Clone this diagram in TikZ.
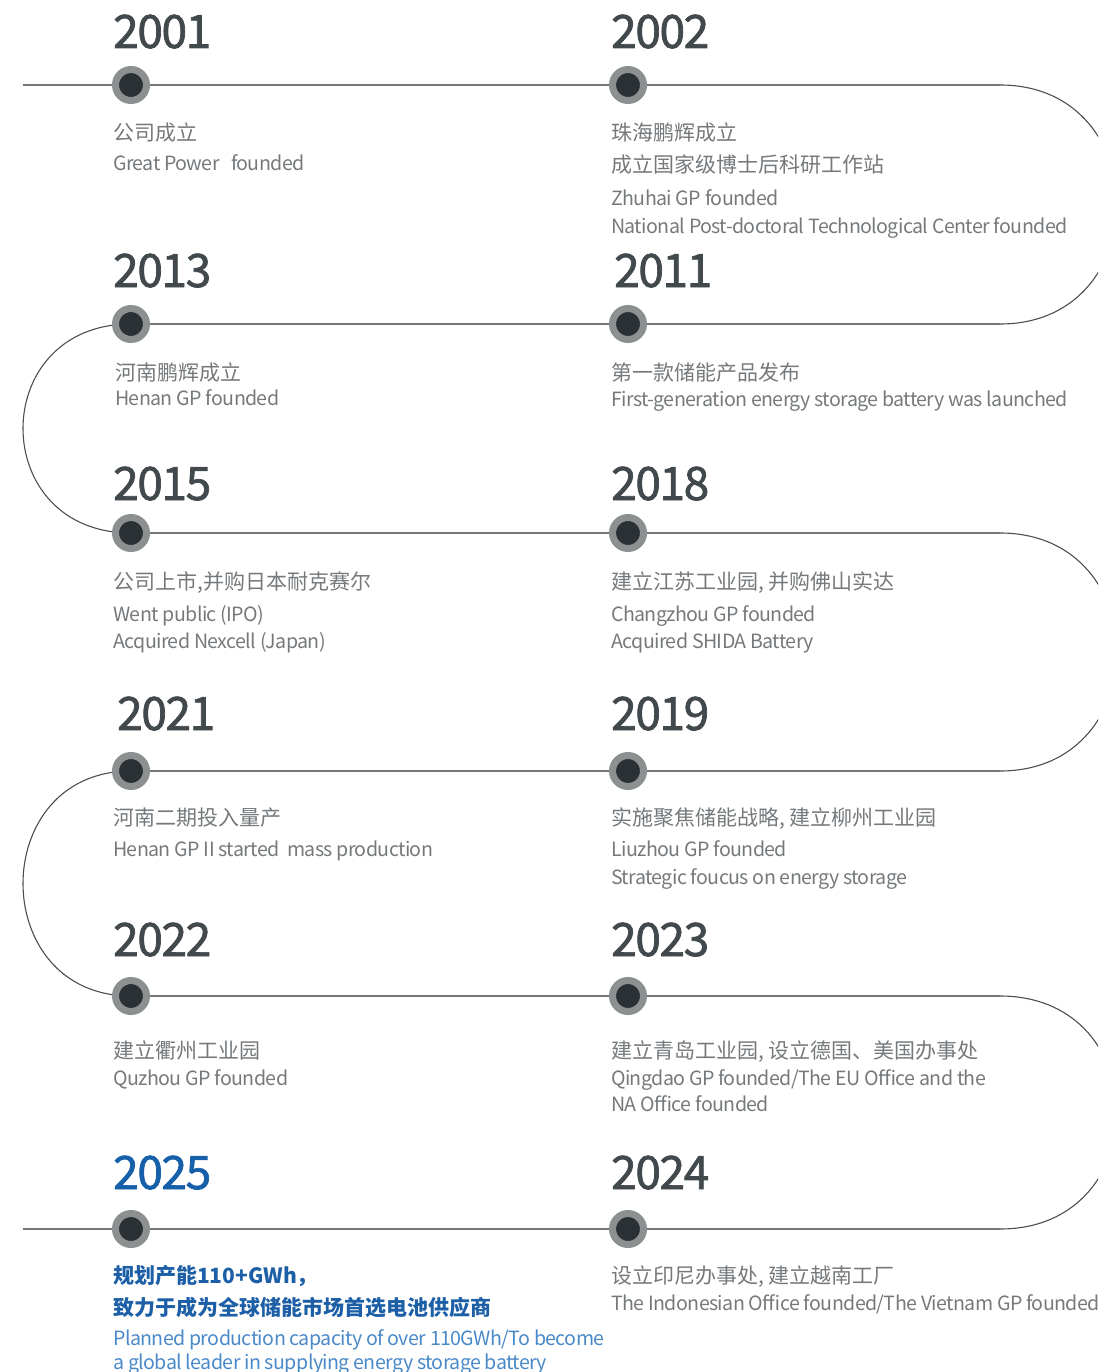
\documentclass[tikz,border=0pt]{standalone}
\usepackage{fontspec}
\setmainfont{Noto Sans CJK SC}
\newfontfamily\enfont[LetterSpace=-3]{Noto Sans CJK SC}
\newfontfamily\yearfont[FakeBold=1.6,LetterSpace=-3]{Noto Sans CJK SC}
\definecolor{yeargray}{HTML}{41494C}
\definecolor{txtgray}{HTML}{75797C}
\definecolor{dotring}{HTML}{8C9091}
\definecolor{dotdark}{HTML}{2B3034}
\definecolor{linegray}{HTML}{737779}
\definecolor{curvegray}{HTML}{4A4F52}
\definecolor{blueyear}{HTML}{1560A8}
\definecolor{bluebold}{HTML}{1D5FA6}
\definecolor{bluetxt}{HTML}{4A89C8}
\pgfdeclarelayer{bg}
\pgfsetlayers{bg,main}
\tikzset{
  yr/.style={anchor=base west, inner sep=0pt, font=\yearfont\fontsize{46}{46}\selectfont, text=yeargray},
  cn/.style={anchor=base west, inner sep=0pt, font=\fontsize{21}{21}\selectfont, text=txtgray},
  en/.style={anchor=base west, inner sep=0pt, font=\enfont\fontsize{19.6}{19.6}\selectfont, text=txtgray},
  dot/.style={circle, fill=dotdark, draw=dotring, line width=7pt, minimum size=31pt, inner sep=0pt},
  hline/.style={draw=linegray, line width=1.6pt},
  curve/.style={draw=curvegray, line width=1.1pt},
}
\begin{document}
\begin{tikzpicture}[x=1pt,y=-1pt]
\useasboundingbox (0,0) rectangle (1098,1372);
% dots
\node[dot] (d2001) at (131,85) {};
\node[dot] (d2002) at (628,85) {};
\node[dot] (d2013) at (131,324) {};
\node[dot] (d2011) at (628,324) {};
\node[dot] (d2015) at (131,533) {};
\node[dot] (d2018) at (628,533) {};
\node[dot] (d2021) at (131,771) {};
\node[dot] (d2019) at (628,771) {};
\node[dot] (d2022) at (131,996) {};
\node[dot] (d2023) at (628,996) {};
\node[dot] (d2025) at (131,1229) {};
\node[dot] (d2024) at (628,1229) {};
% line ends
\coordinate (s1) at (23,85);
\coordinate (t1) at (1000,85);
\coordinate (t2) at (1000,324);
\coordinate (t3) at (1000,533);
\coordinate (t4) at (1000,771);
\coordinate (t5) at (1000,996);
\coordinate (s6) at (23,1229);
\coordinate (t6) at (1000,1229);
\begin{pgfonlayer}{bg}
\begin{scope}
\clip (0,0) rectangle (1098,1372);
\draw[hline] (s1) -- (t1);
\draw[hline] (d2013.center) -- (t2);
\draw[hline] (d2015.center) -- (t3);
\draw[hline] (d2021.center) -- (t4);
\draw[hline] (d2022.center) -- (t5);
\draw[hline] (s6) -- (t6);
\draw[curve] (t1) .. controls +(156,0) and +(156,0) .. (t2);
\draw[curve] (d2013.center) .. controls +(-144,0) and +(-144,0) .. (d2015.center);
\draw[curve] (t3) .. controls +(156,0) and +(156,0) .. (t4);
\draw[curve] (d2021.center) .. controls +(-144,0) and +(-144,0) .. (d2022.center);
\draw[curve] (t5) .. controls +(156,0) and +(156,0) .. (t6);
\end{scope}
\end{pgfonlayer}
% row 1
\node[yr] (y2001) at (113,48) {2001};
\node[yr] (y2002) at (611,48) {2002};
\node[cn] (c2001) at (113,141) {公司成立};
\node[en] (e2001) at (113,171) {Great Power\ \ \ founded};
\node[cn] (c2002a) at (611,141) {珠海鹏辉成立};
\node[cn] (c2002b) at (611,173) {成立国家级博士后科研工作站};
\node[en] (e2002a) at (611,206) {Zhuhai GP founded};
\node[en] (e2002b) at (611,234) {National Post-doctoral Technological Center founded};
% row 2
\node[yr] (y2013) at (113,287) {2013};
\node[yr] (y2011) at (614,287) {2011};
\node[cn] (c2013) at (115,380) {河南鹏辉成立};
\node[en] (e2013) at (115,405) {Henan GP founded};
\node[cn] (c2011) at (611,380) {第一款储能产品发布};
\node[en] (e2011) at (611,406) {First-generation energy storage battery was launched};
% row 3
\node[yr] (y2015) at (113,500) {2015};
\node[yr] (y2018) at (611,500) {2018};
\node[cn] (c2015) at (113,589) {公司上市,并购日本耐克赛尔};
\node[en] (e2015a) at (113,621) {Went public (IPO)};
\node[en] (e2015b) at (113,648) {Acquired Nexcell (Japan)};
\node[cn] (c2018) at (611,589) {建立江苏工业园, 并购佛山实达};
\node[en] (e2018a) at (611,621) {Changzhou GP founded};
\node[en] (e2018b) at (611,648) {Acquired SHIDA Battery};
% row 4
\node[yr] (y2021) at (117,730) {2021};
\node[yr] (y2019) at (611,730) {2019};
\node[cn] (c2021) at (113,825) {河南二期投入量产};
\node[en] (e2021) at (113,856) {Henan GP II started\ \ mass production};
\node[cn] (c2019) at (611,825) {实施聚焦储能战略, 建立柳州工业园};
\node[en] (e2019a) at (611,856) {Liuzhou GP founded};
\node[en] (e2019b) at (611,884) {Strategic foucus on energy storage};
% row 5
\node[yr] (y2022) at (113,956) {2022};
\node[yr] (y2023) at (611,956) {2023};
\node[cn] (c2022) at (113,1058) {建立衢州工业园};
\node[en] (e2022) at (113,1085) {Quzhou GP founded};
\node[cn] (c2023) at (611,1058) {建立青岛工业园, 设立德国、美国办事处};
\node[en] (e2023a) at (611,1085) {Qingdao GP founded/The EU Office and the};
\node[en] (e2023b) at (611,1111) {NA Office founded};
% row 6
\node[yr, text=blueyear] (y2025) at (113,1189) {2025};
\node[yr] (y2024) at (611,1189) {2024};
\node[cn, font=\fontsize{21}{21}\selectfont\bfseries, text=bluebold] (b2025a) at (113,1283) {规划产能110+GWh，};
\node[cn, font=\fontsize{21}{21}\selectfont\bfseries, text=bluebold] (b2025b) at (113,1315) {致力于成为全球储能市场首选电池供应商};
\node[en, text=bluetxt] (e2025a) at (113,1345) {Planned production capacity of over 110GWh/To become};
\node[en, text=bluetxt] (e2025b) at (113,1369) {a global leader in supplying energy storage battery};
\node[cn] (c2024) at (611,1283) {设立印尼办事处, 建立越南工厂};
\node[en] (e2024) at (611,1310) {The Indonesian Office founded/The Vietnam GP founded};
\end{tikzpicture}
\end{document}
